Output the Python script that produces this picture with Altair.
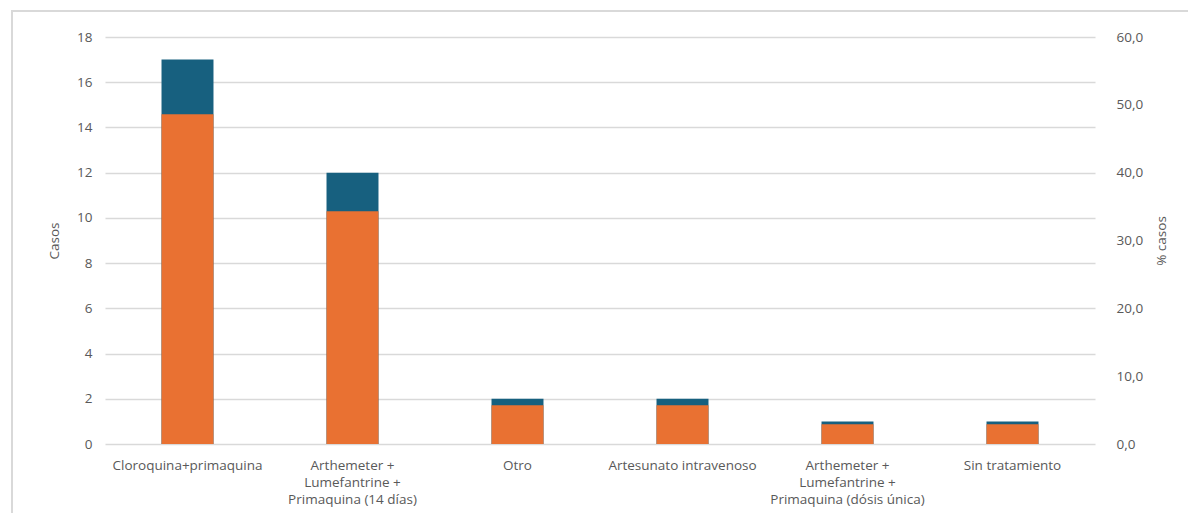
import altair as alt
import pandas as pd

# Treatment categories ("|" marks a line break in the axis label)
categories = [
    "Cloroquina+primaquina",
    "Arthemeter +|Lumefantrine +|Primaquina (14 días)",
    "Otro",
    "Artesunato intravenoso",
    "Arthemeter +|Lumefantrine +|Primaquina  (dósis única)",
    "Sin tratamiento",
]
casos = [17, 12, 2, 2, 1, 1]
pct_casos = [48.6, 34.3, 5.7, 5.7, 2.9, 2.9]

left_ticks = [0, 2, 4, 6, 8, 10, 12, 14, 16, 18]
right_ticks = [0, 10, 20, 30, 40, 50, 60]

df = pd.DataFrame({"cat": categories, "casos": casos, "pct": pct_casos})

FONT = "Open Sans"
FS = 13.5
TXT = "#595959"
GRID = "#D9D9D9"
BLUE = "#17607F"
ORANGE = "#E97132"

x_enc = alt.X(
    "cat:N",
    sort=categories,
    scale=alt.Scale(paddingInner=0.685, paddingOuter=0.3425),
    axis=alt.Axis(
        title=None,
        labelAngle=0,
        labelExpr="split(datum.label, '|')",
        labelLineHeight=17,
        labelPadding=14,
        labelFont=FONT,
        labelFontSize=FS,
        labelColor=TXT,
        ticks=False,
        domain=False,
        grid=False,
        labelLimit=300,
    ),
)

# Light frame around the whole chart
frame = alt.Chart(df).mark_rect(
    fill="transparent", stroke=GRID, strokeWidth=2
).encode(
    x=alt.value(-93), x2=alt.value(1100),
    y=alt.value(-26), y2=alt.value(520),
)

bars_casos = alt.Chart(df).mark_bar(color=BLUE).encode(
    x=x_enc,
    y=alt.Y(
        "casos:Q",
        scale=alt.Scale(domain=[0, 18], nice=False),
        axis=alt.Axis(
            title="Casos",
            values=left_ticks,
            orient="left",
            grid=True,
            gridColor=GRID,
            gridWidth=1.5,
            domain=False,
            ticks=False,
            labelPadding=13,
            labelFont=FONT,
            labelFontSize=FS,
            labelColor=TXT,
            titleFont=FONT,
            titleFontSize=FS,
            titleFontWeight="normal",
            titleColor=TXT,
            titlePadding=15,
        ),
    ),
)

bars_pct = alt.Chart(df).mark_bar(color=ORANGE).encode(
    x=x_enc,
    y=alt.Y(
        "pct:Q",
        scale=alt.Scale(domain=[0, 60], nice=False),
        axis=alt.Axis(
            title="% casos",
            values=right_ticks,
            orient="right",
            grid=False,
            domain=False,
            ticks=False,
            labelExpr="replace(format(datum.value, '.1f'), '.', ',')",
            labelPadding=21,
            labelFont=FONT,
            labelFontSize=FS,
            labelColor=TXT,
            titleFont=FONT,
            titleFontSize=FS,
            titleFontWeight="normal",
            titleColor=TXT,
            titleAngle=270,
            titlePadding=26,
        ),
    ),
)

chart = (
    alt.layer(frame, bars_casos, bars_pct)
    .resolve_scale(y="independent")
    .properties(
        width=990,
        height=407,
        background="white",
        autosize=alt.AutoSizeParams(type="none"),
        padding={"left": 105, "top": 37, "right": 93, "bottom": 69},
    )
    .configure_view(strokeWidth=0, stroke="transparent")
)

chart.save("out.html", embed_options={"renderer": "svg", "actions": False})
